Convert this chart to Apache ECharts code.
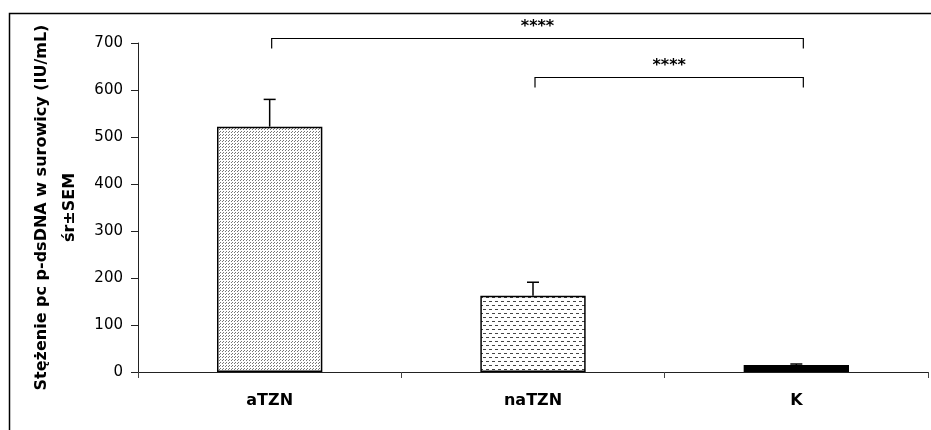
<!DOCTYPE html>
<html>
<head>
<meta charset="utf-8">
<script src="https://cdn.jsdelivr.net/npm/echarts@6/dist/echarts.min.js"></script>
<style>
  html, body { margin: 0; padding: 0; background: #fff; }
  #chart { width: 931px; height: 430px; }
</style>
</head>
<body>
<div id="chart"></div>
<script>
// dane
const categories = ["aTZN", "naTZN", "K"];
const means = [522, 162, 15];
const sem = [58, 29, 2];
// porownania: od kategorii, do kategorii, poziom, etykieta
const bracketFrom = [0, 1];
const bracketTo = [2, 2];
const bracketLevel = [710, 628];
const bracketLabel = ["****", "****"];
const yTicks = [0, 100, 200, 300, 400, 500, 600, 700];

// wzory wypelnienia slupkow
function dotPattern() {
  const c = document.createElement("canvas");
  c.width = 3; c.height = 3;
  const ctx = c.getContext("2d");
  ctx.fillStyle = "#fff";
  ctx.fillRect(0, 0, 3, 3);
  ctx.fillStyle = "#777";
  ctx.fillRect(0, 0, 1, 1);
  ctx.fillRect(1, 2, 1, 1);
  return c;
}
function dashPattern() {
  const c = document.createElement("canvas");
  c.width = 6; c.height = 8;
  const ctx = c.getContext("2d");
  ctx.fillStyle = "#fff";
  ctx.fillRect(0, 0, 6, 8);
  ctx.fillStyle = "#444";
  ctx.fillRect(0, 1, 3, 1);
  ctx.fillRect(3, 5, 3, 1);
  return c;
}
const fills = [
  { image: dotPattern(), repeat: "repeat" },
  { image: dashPattern(), repeat: "repeat" },
  "#000",
];

const chart = echarts.init(document.getElementById("chart"));

const option = {
  animation: false,
  backgroundColor: "#fff",
  textStyle: { fontFamily: "DejaVu Sans" },
  grid: { left: 138, right: 3, top: 43, bottom: 58, containLabel: false },
  graphic: [
    {
      type: "rect",
      shape: { x: 9.5, y: 13.5, width: 940, height: 440 },
      style: { fill: "none", stroke: "#000", lineWidth: 1.5 },
      silent: true,
    },
  ],
  xAxis: {
    type: "category",
    data: categories,
    axisLine: { lineStyle: { color: "#222", width: 1 } },
    axisTick: { show: true, length: 6, lineStyle: { color: "#444" } },
    axisLabel: {
      margin: 21,
      fontSize: 16,
      fontWeight: "bold",
      color: "#000",
      fontFamily: "DejaVu Sans",
    },
  },
  yAxis: {
    type: "value",
    min: yTicks[0],
    max: yTicks[yTicks.length - 1],
    interval: 100,
    name: "Stężenie pc p-dsDNA w surowicy (IU/mL)\nśr±SEM",
    nameLocation: "middle",
    nameGap: 52,
    nameRotate: 90,
    nameTextStyle: {
      fontSize: 16,
      fontWeight: "bold",
      color: "#000",
      lineHeight: 28,
      fontFamily: "DejaVu Sans",
    },
    axisLine: { show: true, lineStyle: { color: "#222", width: 1 } },
    axisTick: { show: true, length: 7, lineStyle: { color: "#222" } },
    splitLine: { show: false },
    axisLabel: { margin: 15, fontSize: 15, color: "#000" },
  },
  series: [
    {
      type: "bar",
      barWidth: "40%",
      data: means.map((v, i) => ({
        value: v,
        itemStyle: { color: fills[i] },
      })),
      itemStyle: { borderColor: "#000", borderWidth: 1.5 },
      z: 2,
    },
    {
      // slupki bledu (tylko w gore)
      type: "custom",
      data: means.map((v, i) => [i, v, v + sem[i]]),
      renderItem: (params, api) => {
        const base = api.coord([api.value(0), api.value(1)]);
        const top = api.coord([api.value(0), api.value(2)]);
        const half = 6;
        return {
          type: "group",
          children: [
            {
              type: "line",
              shape: { x1: base[0], y1: base[1], x2: top[0], y2: top[1] },
              style: { stroke: "#000", lineWidth: 1.5 },
            },
            {
              type: "line",
              shape: { x1: top[0] - half, y1: top[1], x2: top[0] + half, y2: top[1] },
              style: { stroke: "#000", lineWidth: 1.5 },
            },
          ],
        };
      },
      z: 3,
    },
    {
      // klamry istotnosci
      type: "custom",
      clip: false,
      data: bracketFrom.map((f, i) => [f, bracketTo[i], bracketLevel[i]]),
      renderItem: (params, api) => {
        const i = params.dataIndex;
        const a = api.coord([api.value(0), api.value(2)]);
        const b = api.coord([api.value(1), api.value(2)]);
        const x1 = a[0] + 2;
        const x2 = b[0] + 7;
        const y = Math.round(a[1]) + 0.5;
        const drop = 10;
        return {
          type: "group",
          children: [
            {
              type: "polyline",
              shape: { points: [[x1, y + drop], [x1, y], [x2, y], [x2, y + drop]] },
              style: { stroke: "#000", lineWidth: 1.2, fill: "none" },
            },
            {
              type: "text",
              style: {
                x: (x1 + x2) / 2,
                y: y - 12,
                text: bracketLabel[i],
                align: "center",
                verticalAlign: "middle",
                fontSize: 16,
                fontWeight: "bold",
                fill: "#000",
                fontFamily: "DejaVu Sans",
              },
            },
          ],
        };
      },
      z: 3,
    },
  ],
};

chart.setOption(option);
</script>
</body>
</html>
